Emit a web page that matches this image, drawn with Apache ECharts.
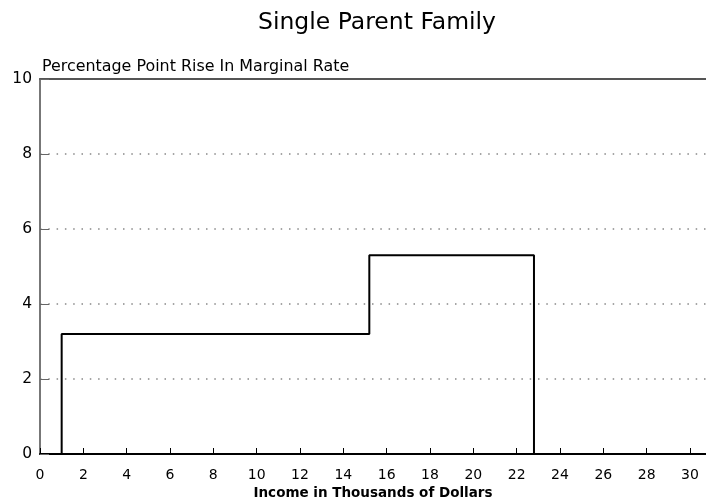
<!DOCTYPE html>
<html><head><meta charset="utf-8">
<script src="https://cdn.jsdelivr.net/npm/echarts@6/dist/echarts.min.js"></script>
<style>html,body{margin:0;padding:0;background:#fff}#c{width:706px;height:503px}</style>
</head><body><div id="c"></div>
<script>
const incomeX = [1, 1, 15.2, 15.2, 22.8, 22.8];
const riseY = [0, 3.2, 3.2, 5.3, 5.3, 0];
const xTicks = [0,2,4,6,8,10,12,14,16,18,20,22,24,26,28,30];
const yTicks = [0,2,4,6,8,10];

const chart = echarts.init(document.getElementById('c'));
const font = 'DejaVu Sans, sans-serif';
chart.setOption({
  animation: false,
  title: { text: 'Single Parent Family', left: 372, top: 6, textAlign: 'center',
    textStyle: { fontFamily: font, fontSize: 23.5, fontWeight: 'normal', color: '#000' } },
  grid: { left: 40, right: 0, top: 79, bottom: 49, outerBoundsMode: 'none', containLabel: false },
  xAxis: [{
    type: 'value', min: 0, max: 30.74, interval: 2,
    name: 'Income in Thousands of Dollars', nameLocation: 'middle', nameGap: 32,
    nameTextStyle: { fontFamily: font, fontSize: 13.5, fontWeight: 'bold', color: '#000' },
    axisLine: { lineStyle: { color: '#000', width: 2 } },
    axisTick: { inside: true, length: 6, lineStyle: { color: '#000', width: 1 } },
    axisLabel: { fontFamily: font, fontSize: 14, color: '#000', margin: 14, showMaxLabel: false,
      formatter: v => xTicks.includes(v) ? String(v) : '' },
    splitLine: { show: false }
  }, {
    type: 'value', position: 'top', min: 0, max: 30.74,
    axisLine: { show: true, lineStyle: { color: '#555', width: 2 } },
    axisTick: { show: false }, axisLabel: { show: false }, splitLine: { show: false }
  }],
  yAxis: {
    type: 'value', min: 0, max: 10, interval: 2,
    name: 'Percentage Point Rise In Marginal Rate', nameLocation: 'end', nameGap: 4,
    nameTextStyle: { fontFamily: font, fontSize: 15.9, color: '#000', align: 'left', padding: [0,0,0,2] },
    axisLine: { show: true, lineStyle: { color: '#777', width: 2 } },
    axisTick: { show: true, inside: true, length: 9, lineStyle: { color: '#666', width: 1 } },
    axisLabel: { fontFamily: font, fontSize: 15.5, color: '#000', margin: 8,
      formatter: v => yTicks.includes(v) ? String(v) : '' },
    splitLine: { show: true, lineStyle: { color: '#888', type: [1.5, 6.8], width: 1.5 } }
  },
  series: [{
    type: 'line', showSymbol: false, symbol: 'none',
    data: incomeX.map((x, i) => [x, riseY[i]]),
    lineStyle: { color: '#000', width: 2 }
  }]
});
</script></body></html>
